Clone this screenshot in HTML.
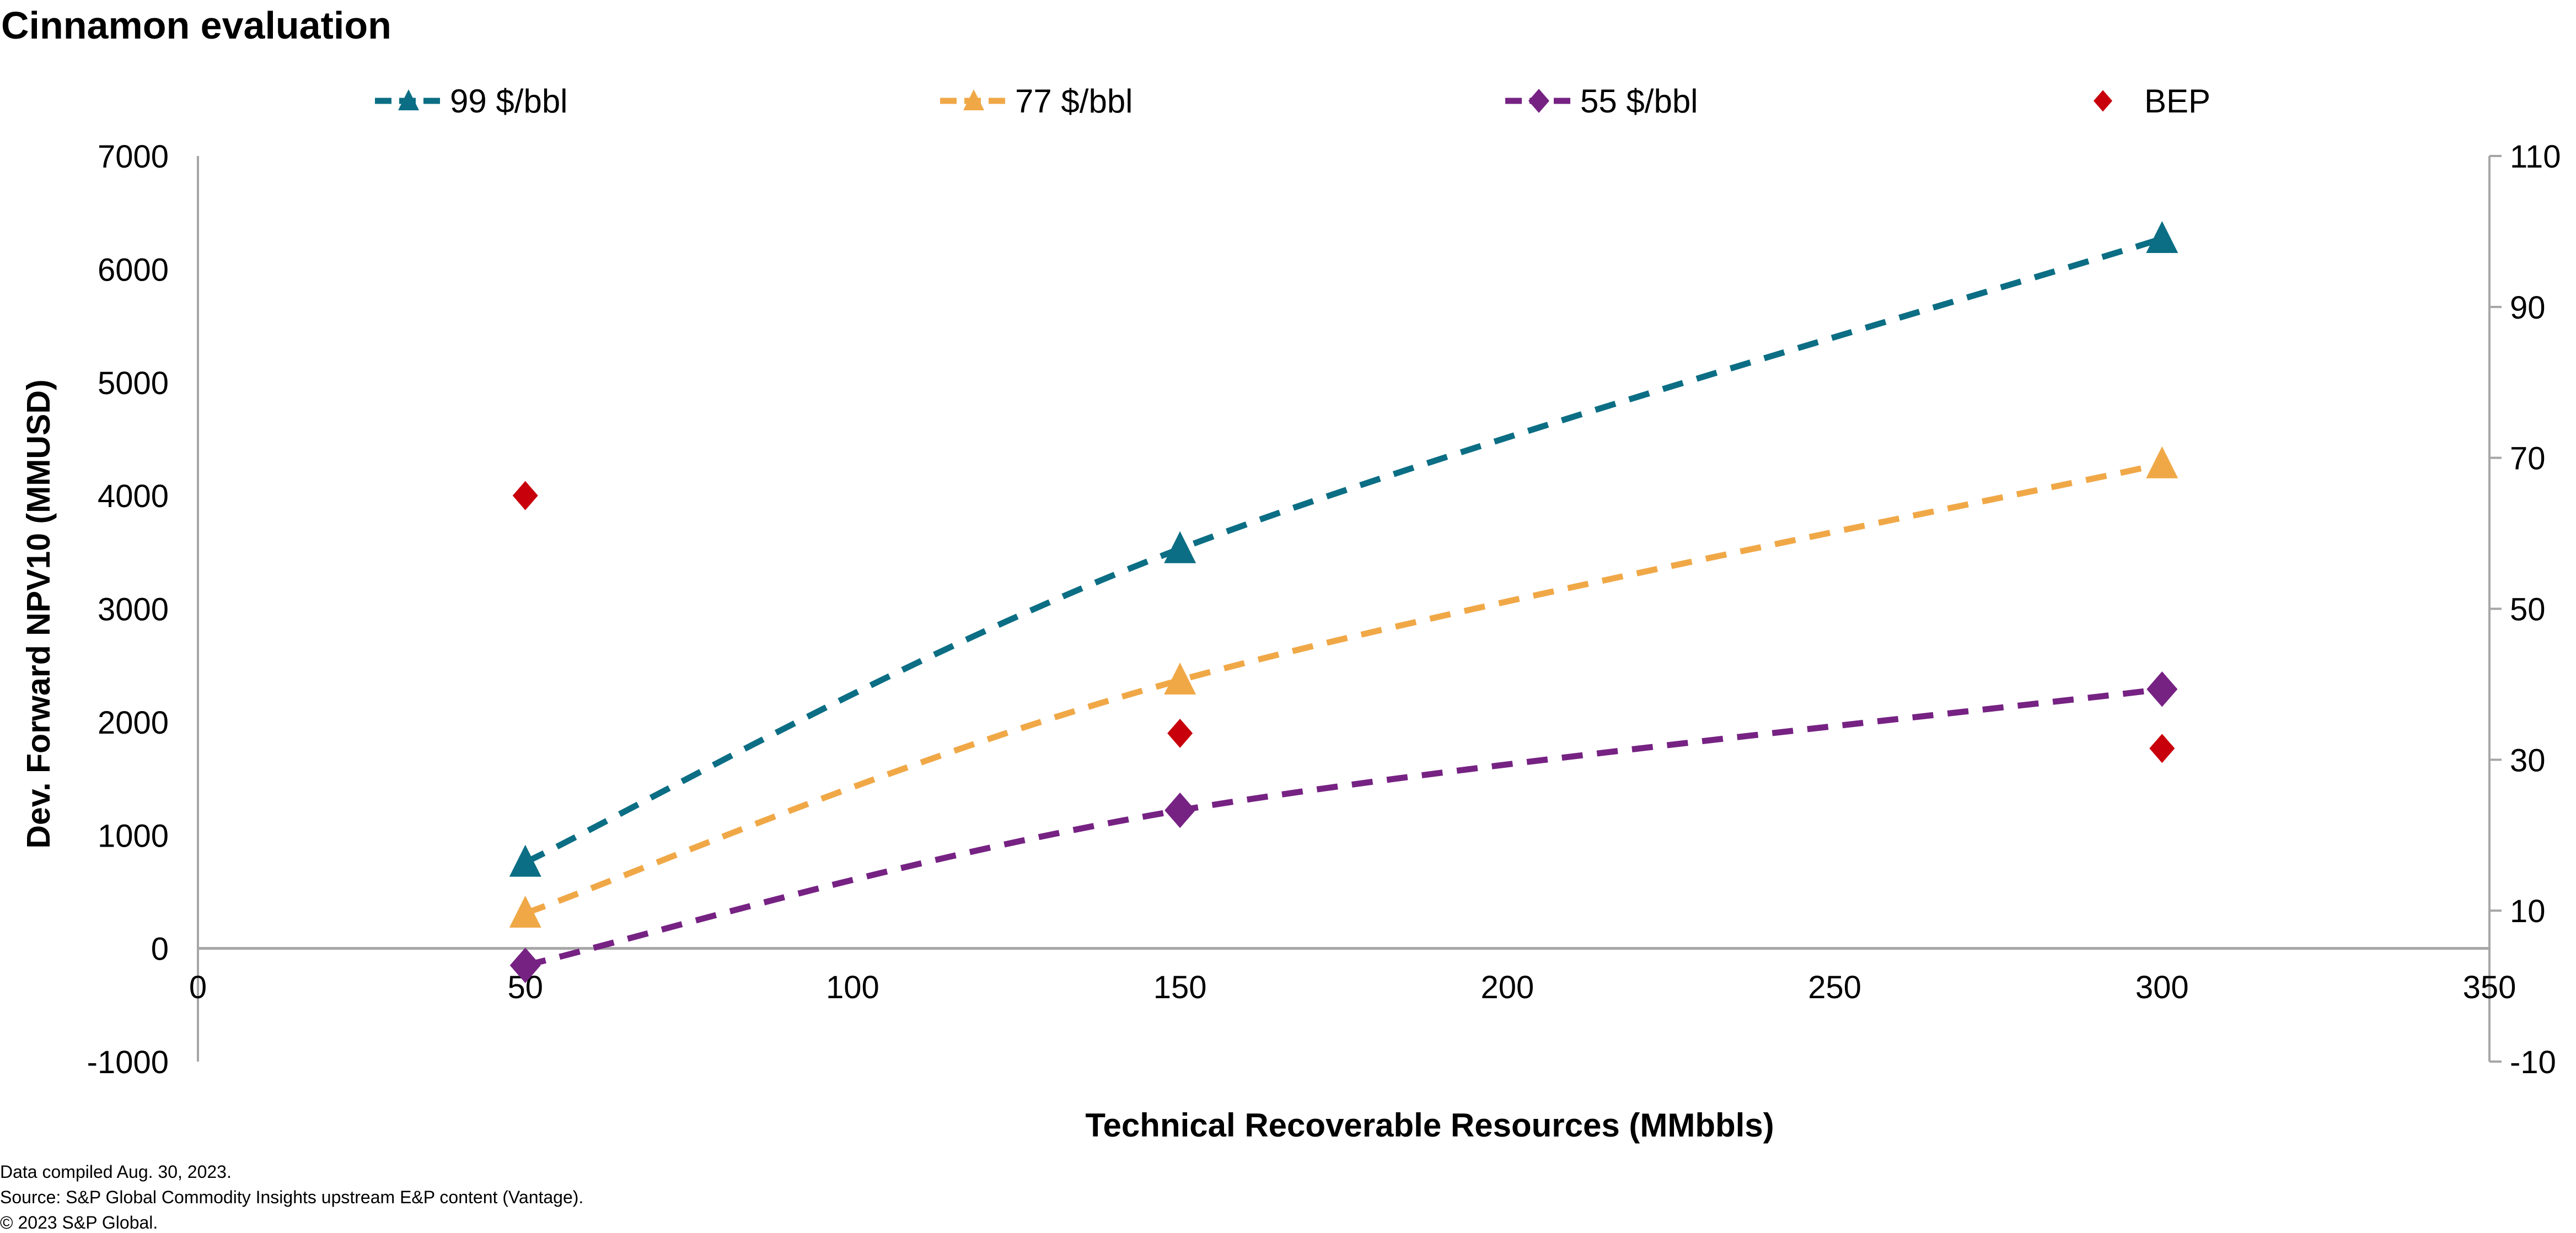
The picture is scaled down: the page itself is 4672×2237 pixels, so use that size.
<!DOCTYPE html>
<html><head><meta charset="utf-8"><style>
html,body{margin:0;padding:0;background:#fff;}
svg{display:block;font-family:"Liberation Sans",Arial,sans-serif;}
</style></head><body>
<svg id="chart" width="4672" height="2237" viewBox="0 0 4672 2237" xmlns="http://www.w3.org/2000/svg">
<text x="2" y="70" font-size="70" font-weight="bold">Cinnamon evaluation</text>
<g id="legend"></g>
<g id="axes"></g>
<g id="series"></g>
<text transform="translate(90,1114) rotate(-90)" text-anchor="middle" font-size="59" font-weight="bold">Dev. Forward NPV10 (MMUSD)</text>
<text x="2593" y="2062" text-anchor="middle" font-size="60" font-weight="bold">Technical Recoverable Resources (MMbbls)</text>
<text x="0" y="2137" font-size="32">Data compiled Aug. 30, 2023.</text>
<text x="0" y="2183" font-size="32">Source: S&amp;P Global Commodity Insights upstream E&amp;P content (Vantage).</text>
<text x="0" y="2229" font-size="32">© 2023 S&amp;P Global.</text>
</svg>
<script>
const xCats = [50, 150, 300];
const s99 = [760, 3530, 6270];
const s77 = [310, 2370, 4280];
const s55 = [-150, 1220, 2290];
const bep = [65, 33.5, 31.5];
const xTicks = [0, 50, 100, 150, 200, 250, 300, 350];
const yTicks = [-1000, 0, 1000, 2000, 3000, 4000, 5000, 6000, 7000];
const y2Ticks = [-10, 10, 30, 50, 70, 90, 110];

const NS = "http://www.w3.org/2000/svg";
const X0 = 359, X1 = 4515, YT = 283, YB = 1926;
const xs = v => X0 + (v - 0) / 350 * (X1 - X0);
const ys = v => YB - (v + 1000) / 8000 * (YB - YT);
const y2s = v => YB - (v + 10) / 120 * (YB - YT);
function mk(tag, attrs, parent) { const e = document.createElementNS(NS, tag); for (const k in attrs) e.setAttribute(k, attrs[k]); parent.appendChild(e); return e; }
const axes = document.getElementById('axes');
const ser = document.getElementById('series');
const leg = document.getElementById('legend');

let e = mk('line', {x1: X0, y1: YT, x2: X0, y2: YB, stroke: '#a6a6a6', 'stroke-width': 4}, axes);
 
e = mk('line', {x1: X1, y1: YT, x2: X1, y2: YB, stroke: '#a6a6a6', 'stroke-width': 4}, axes);
 
e = mk('line', {x1: X0, y1: ys(0), x2: X1, y2: ys(0), stroke: '#a6a6a6', 'stroke-width': 5}, axes);
 

yTicks.forEach(v => {
  const t = mk('text', {x: 306, y: ys(v) + 21, 'text-anchor': 'end', 'font-size': 58}, axes);
  t.textContent = v;
   
});
y2Ticks.forEach(v => {
  const l = mk('line', {x1: X1, y1: y2s(v), x2: X1 + 22, y2: y2s(v), stroke: '#a6a6a6', 'stroke-width': 4}, axes);
   
  const t = mk('text', {x: 4552, y: y2s(v) + 21, 'font-size': 58}, axes);
  t.textContent = v;
   
});
xTicks.forEach(v => {
  const t = mk('text', {x: xs(v), y: 1811, 'text-anchor': 'middle', 'font-size': 58}, axes);
  t.textContent = v;
   
});

function smoothPath(pts) {
  let d = `M${pts[0][0]},${pts[0][1]}`;
  for (let i = 0; i < pts.length - 1; i++) {
    const p0 = pts[Math.max(0, i - 1)], p1 = pts[i], p2 = pts[i + 1], p3 = pts[Math.min(pts.length - 1, i + 2)];
    const c1 = [p1[0] + (p2[0] - p0[0]) / 6, p1[1] + (p2[1] - p0[1]) / 6];
    const c2 = [p2[0] - (p3[0] - p1[0]) / 6, p2[1] - (p3[1] - p1[1]) / 6];
    d += ` C${c1[0]},${c1[1]} ${c2[0]},${c2[1]} ${p2[0]},${p2[1]}`;
  }
  return d;
}
function marker(type, cx, cy, size, color, parent) {
  const h = size / 2;
  const pts = type === 'tri'
    ? `${cx},${cy - h * 1.1} ${cx + h},${cy + h * 0.9} ${cx - h},${cy + h * 0.9}`
    : `${cx},${cy - h * 1.15} ${cx + h},${cy} ${cx},${cy + h * 1.15} ${cx - h},${cy}`;
  return mk('polygon', {points: pts, fill: color}, parent);
}
const seriesDefs = [
  {vals: s99, color: '#0b6e84', m: 'tri', name: 'series-99'},
  {vals: s77, color: '#f0a847', m: 'tri', name: 'series-77'},
  {vals: s55, color: '#762283', m: 'dia', name: 'series-55'}
];
seriesDefs.forEach(s => {
  const pts = xCats.map((x, i) => [xs(x), ys(s.vals[i])]);
  const p = mk('path', {d: smoothPath(pts), fill: 'none', stroke: s.color, 'stroke-width': 11, 'stroke-dasharray': '38 26'}, ser);
   
  pts.forEach(pt => {
    const m = marker(s.m, pt[0], pt[1], s.m === 'tri' ? 58 : 56, s.color, ser);
     
  });
});
xCats.forEach((x, i) => {
  const m = marker('dia', xs(x), y2s(bep[i]), 46, '#c8000b', ser);
   
});

const legItems = [
  {x: 680, color: '#0b6e84', m: 'tri', label: '99 $/bbl', line: true},
  {x: 1705, color: '#f0a847', m: 'tri', label: '77 $/bbl', line: true},
  {x: 2730, color: '#762283', m: 'dia', label: '55 $/bbl', line: true},
  {x: 3790, color: '#c8000b', m: 'dia', label: 'BEP', line: false}
];
const LY = 183;
legItems.forEach(it => {
  const g = mk('g', {}, leg);
   
  if (it.line) {
    mk('line', {x1: it.x, y1: LY, x2: it.x + 122, y2: LY, stroke: it.color, 'stroke-width': 11, 'stroke-dasharray': '30 14'}, g);
    marker(it.m, it.x + 61, LY, 38, it.color, g);
  } else {
    marker('dia', it.x + 24, LY, 34, it.color, g);
  }
  const t = mk('text', {x: it.line ? it.x + 136 : it.x + 99, y: LY + 21, 'font-size': 60}, g);
  t.textContent = it.label;
});
</script>
</body></html>
